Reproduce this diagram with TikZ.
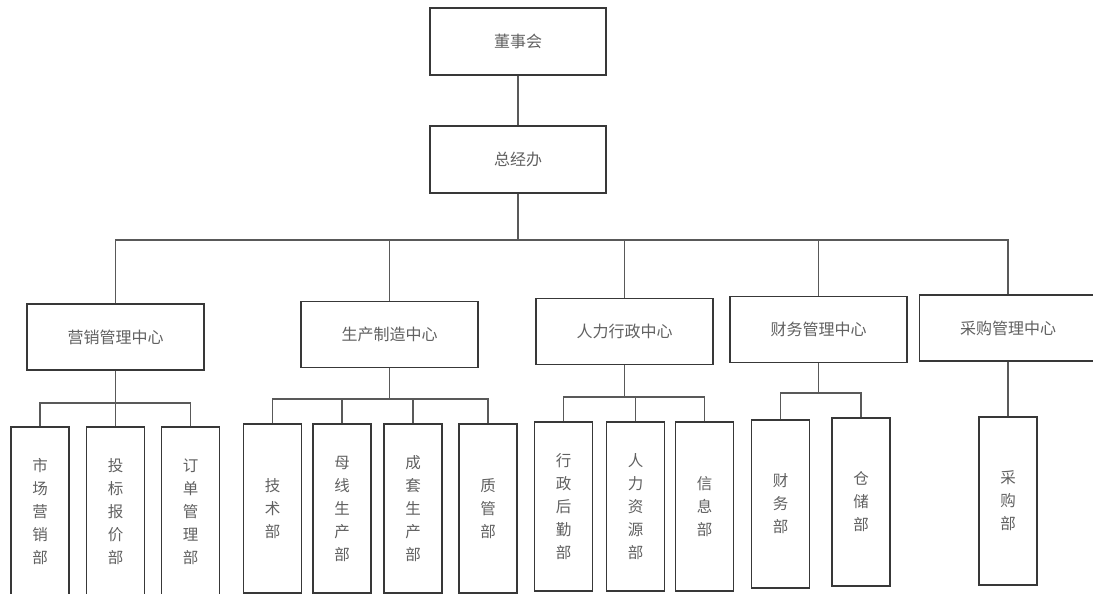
\documentclass[tikz,border=0pt]{standalone}
\usepackage{fontspec}
\newfontfamily\cjk{Noto Sans CJK SC}
\begin{document}
\begin{tikzpicture}[x=1pt,y=-1pt,
  box/.style={draw=black!78,line width=1.3pt,fill=white,rectangle,inner sep=0pt,
    font=\cjk\fontsize{16}{20}\selectfont,text=black!62},
  topbox/.style={box,minimum width=176,minimum height=67},
  midbox/.style={box,minimum width=177,minimum height=66},
  leaf/.style={box,minimum width=58,align=center,
    font=\cjk\fontsize{15.5}{23}\selectfont},
  conn/.style={draw=black!65,line width=1.2pt}]
\useasboundingbox (0,0) rectangle (1093,594);
% top
\node[topbox] (dsh) at (518,41.5) {董事会};
\node[topbox] (zjb) at (518,159.5) {总经办};
% middle
\node[midbox] (m1) at (115.5,337) {营销管理中心};
\node[midbox] (m2) at (389.5,334.5) {生产制造中心};
\node[midbox] (m3) at (624.5,331.5) {人力行政中心};
\node[midbox] (m4) at (818.5,329.5) {财务管理中心};
\node[midbox] (m5) at (1008,328) {采购管理中心};
% leaves group 1
\node[leaf,minimum height=170] (a1) at (40,512) {市\\场\\营\\销\\部};
\node[leaf,minimum height=170] (a2) at (115.5,512) {投\\标\\报\\价\\部};
\node[leaf,minimum height=170] (a3) at (190.5,512) {订\\单\\管\\理\\部};
% group 2
\node[leaf,minimum height=169] (b1) at (272.5,508.5) {技\\术\\部};
\node[leaf,minimum height=169] (b2) at (342,508.5) {母\\线\\生\\产\\部};
\node[leaf,minimum height=169] (b3) at (413,508.5) {成\\套\\生\\产\\部};
\node[leaf,minimum height=169] (b4) at (488,508.5) {质\\管\\部};
% group 3
\node[leaf,minimum height=169] (c1) at (563.5,506.5) {行\\政\\后\\勤\\部};
\node[leaf,minimum height=169] (c2) at (635.5,506.5) {人\\力\\资\\源\\部};
\node[leaf,minimum height=169] (c3) at (704.5,506.5) {信\\息\\部};
% group 4
\node[leaf,minimum height=168] (d1) at (780.5,504) {财\\务\\部};
\node[leaf,minimum height=168] (d2) at (861,502) {仓\\储\\部};
% group 5
\node[leaf,minimum height=168] (e1) at (1008,501) {采\\购\\部};
% connectors
\draw[conn] (dsh.south) -- (zjb.north);
\coordinate (mb) at (0,240);
\draw[conn] (zjb.south) -- (zjb.south |- mb);
\draw[conn] (m1.north) -- (m1.north |- mb) -- (m5.north |- mb) -- (m5.north);
\draw[conn] (m2.north) -- (m2.north |- mb);
\draw[conn] (m3.north) -- (m3.north |- mb);
\draw[conn] (m4.north) -- (m4.north |- mb);
% group 1 bus
\coordinate (s1) at (0,403);
\draw[conn] (m1.south) -- (m1.south |- s1);
\draw[conn] (a1.north) -- (a1.north |- s1) -- (a3.north |- s1) -- (a3.north);
\draw[conn] (a2.north) -- (a2.north |- s1);
% group 2 bus
\coordinate (s2) at (0,399);
\draw[conn] (m2.south) -- (m2.south |- s2);
\draw[conn] (b1.north) -- (b1.north |- s2) -- (b4.north |- s2) -- (b4.north);
\draw[conn] (b2.north) -- (b2.north |- s2);
\draw[conn] (b3.north) -- (b3.north |- s2);
% group 3 bus
\coordinate (s3) at (0,397);
\draw[conn] (m3.south) -- (m3.south |- s3);
\draw[conn] (c1.north) -- (c1.north |- s3) -- (c3.north |- s3) -- (c3.north);
\draw[conn] (c2.north) -- (c2.north |- s3);
% group 4 bus
\coordinate (s4) at (0,393);
\draw[conn] (m4.south) -- (m4.south |- s4);
\draw[conn] (d1.north) -- (d1.north |- s4) -- (d2.north |- s4) -- (d2.north);
% group 5
\draw[conn] (m5.south) -- (e1.north);
\end{tikzpicture}
\end{document}
